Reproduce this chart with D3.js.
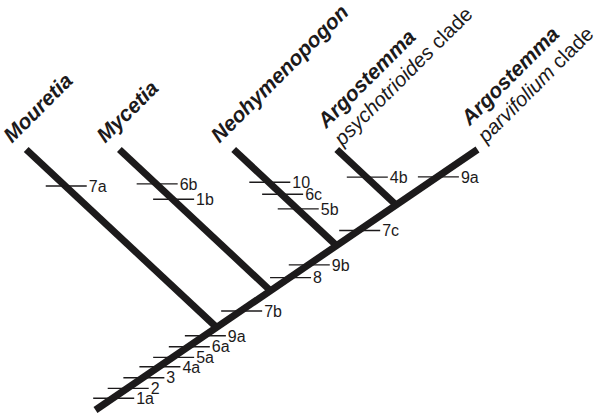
<!DOCTYPE html>
<html>
<head>
<meta charset="utf-8">
<script src="https://cdn.jsdelivr.net/npm/d3@7"></script>
<style>
  body { margin: 0; background: #fff; }
  svg { display: block; font-family: "Liberation Sans", Arial, sans-serif; }
</style>
</head>
<body>
<svg></svg>
<script>
const svgWidth = 609;
const svgHeight = 413;

// clades, left to right
const genera = ["Mouretia", "Mycetia", "Neohymenopogon", "Argostemma", "Argostemma"];
const epithets = ["", "", "", "psychotrioides", "parvifolium"];
// height on the backbone where each clade splits off (100 = tip level)
const splitHeights = [31.7, 45.8, 63.1, 78.7, 100];

// characters on the backbone
const stemChars = ["1a", "2", "3", "4a", "5a", "6a", "9a", "7b", "8", "9b", "7c"];
const stemHeights = [4.5, 8.3, 12.4, 16.6, 20.2, 24.3, 28.5, 38.0, 50.8, 55.7, 68.9];

// characters on each clade's own branch
const branchChars = [["7a"], ["6b", "1b"], ["10", "6c", "5b"], ["4b"], ["9a"]];
const branchHeights = [[86.0], [86.8, 80.9], [87.4, 82.8, 77.2], [89.4], [89.5]];

const svg = d3.select("svg")
    .attr("width", svgWidth)
    .attr("height", svgHeight);

const ink = "#1c1a1b";
const last = genera.length - 1;

const y = d3.scaleLinear().domain([0, 100]).range([410, 149.5]);
const xStem = d3.scaleLinear().domain([0, 100]).range([95.5, 477.5]);
const lean = 1.07; // side branches: horizontal px per vertical px

// x of a point at height h on clade i's branch
function branchX(i, h) {
    if (i === last) return xStem(h);
    const s = splitHeights[i];
    return xStem(s) - (y(s) - y(h)) * lean;
}

const line = d3.line()
    .x(d => d.i < 0 ? xStem(d.h) : branchX(d.i, d.h))
    .y(d => y(d.h));

// side branches
svg.append("g")
    .selectAll("path")
    .data(genera.slice(0, last).map((g, i) => [{i: i, h: splitHeights[i]}, {i: i, h: 100}]))
    .join("path")
    .attr("d", line)
    .attr("fill", "none")
    .attr("stroke", ink)
    .attr("stroke-width", 7)
    .attr("stroke-linecap", "butt");

// backbone
svg.append("path")
    .datum([{i: -1, h: 0}, {i: -1, h: 100}])
    .attr("d", line)
    .attr("fill", "none")
    .attr("stroke", ink)
    .attr("stroke-width", 7)
    .attr("stroke-linecap", "butt");

// character marks
const marks = stemChars.map((c, k) => ({label: c, x: xStem(stemHeights[k]), h: stemHeights[k]}));
branchChars.forEach((list, i) => list.forEach((c, k) =>
    marks.push({label: c, x: branchX(i, branchHeights[i][k]), h: branchHeights[i][k]})));

const tick = svg.append("g")
    .selectAll("g")
    .data(marks)
    .join("g")
    .attr("transform", d => "translate(" + (d.x + 1) + "," + y(d.h) + ")");

tick.append("line")
    .attr("x1", -20.5)
    .attr("x2", 20.5)
    .attr("stroke", ink)
    .attr("stroke-width", 1.4);

tick.append("text")
    .attr("x", 22.5)
    .attr("dy", "0.36em")
    .attr("font-size", 16)
    .attr("fill", ink)
    .text(d => d.label);

// clade names
const name = svg.append("g")
    .selectAll("g")
    .data(genera.map((g, i) => ({genus: g, epithet: epithets[i], i: i})))
    .join("g")
    .attr("transform", d => "translate(" + branchX(d.i, 100) + "," + y(100) + ") rotate(-45)");

name.append("text")
    .attr("x", d => d.epithet ? (d.i === last ? 11 : 7) : -6)
    .attr("y", d => d.epithet ? -22 : -14)
    .attr("font-size", 21)
    .attr("font-weight", "bold")
    .attr("font-style", "italic")
    .attr("fill", ink)
    .text(d => d.genus);

const second = name.filter(d => d.epithet)
    .append("text")
    .attr("x", d => d.i === last ? 10 : 6)
    .attr("y", 2)
    .attr("font-size", 20.5)
    .attr("fill", ink);

second.append("tspan")
    .attr("font-style", "italic")
    .text(d => d.epithet);

second.append("tspan")
    .text(" clade");
</script>
</body>
</html>
